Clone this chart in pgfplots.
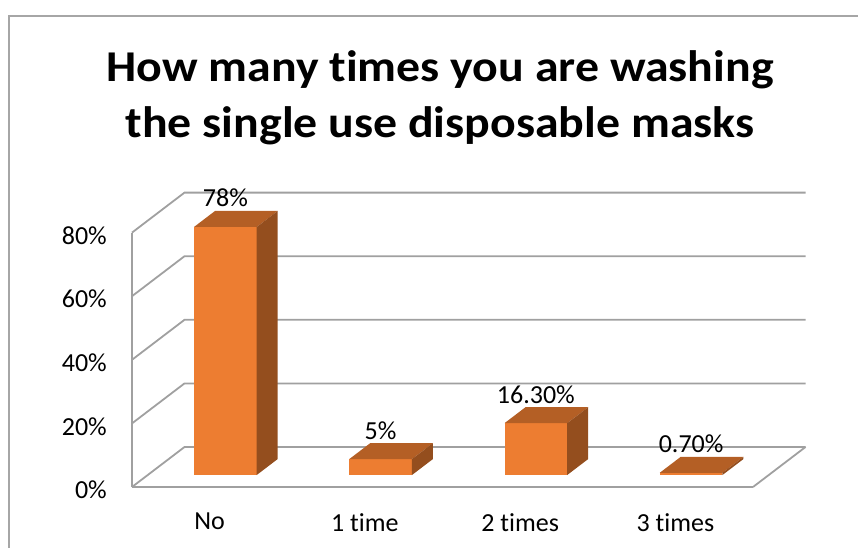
\documentclass[border=0pt]{standalone}
\usepackage{pgfplots}
\pgfplotsset{compat=1.18}
\usepackage{pgfplotstable}
\usepackage{fontspec}
\setmainfont[Ligatures={NoCommon}]{Carlito}

\definecolor{barfront}{HTML}{ED7D31}
\definecolor{bartop}{HTML}{B45F25}
\definecolor{barside}{HTML}{944E1E}
\definecolor{wallline}{HTML}{A0A0A0}
\definecolor{framec}{HTML}{A6A6A6}

% oblique depth of the floor and walls (canvas pt)
\def\depx{52.5}\def\depy{40}
% cuboid geometry: front-face offset, half width, depth
\def\bofx{15.75}\def\bofy{12}\def\bhw{31.35}\def\bdx{21}\def\bdy{16}
\def\yunit{3.18}

% a 3-D column whose height is the plotted value (origin = front-plane point)
\pgfdeclareplotmark{cuboid}{%
  \pgfmathsetmacro\bh{\barval*\yunit}%
  % front face
  \pgfpathrectangle{\pgfpoint{(\bofx-\bhw)*1pt}{(\bofy-\bh)*1pt}}{\pgfpoint{2*\bhw*1pt}{\bh*1pt}}%
  \pgfsetfillcolor{barfront}\pgfusepath{fill}%
  % top face
  \pgfpathmoveto{\pgfpoint{(\bofx-\bhw)*1pt}{\bofy*1pt}}%
  \pgfpathlineto{\pgfpoint{(\bofx+\bhw)*1pt}{\bofy*1pt}}%
  \pgfpathlineto{\pgfpoint{(\bofx+\bhw+\bdx)*1pt}{(\bofy+\bdy)*1pt}}%
  \pgfpathlineto{\pgfpoint{(\bofx-\bhw+\bdx)*1pt}{(\bofy+\bdy)*1pt}}%
  \pgfpathclose
  \pgfsetfillcolor{bartop}\pgfusepath{fill}%
  % side face
  \pgfpathmoveto{\pgfpoint{(\bofx+\bhw)*1pt}{(\bofy-\bh)*1pt}}%
  \pgfpathlineto{\pgfpoint{(\bofx+\bhw)*1pt}{\bofy*1pt}}%
  \pgfpathlineto{\pgfpoint{(\bofx+\bhw+\bdx)*1pt}{(\bofy+\bdy)*1pt}}%
  \pgfpathlineto{\pgfpoint{(\bofx+\bhw+\bdx)*1pt}{(\bofy+\bdy-\bh)*1pt}}%
  \pgfpathclose
  \pgfsetfillcolor{barside}\pgfusepath{fill}%
}

\pgfplotstableread{
pos share label
0   78    78
1   5     5
2   16.3  16.30
3   0.7   0.70
}\masks

\begin{document}
\begin{tikzpicture}
\begin{axis}[
  x=155.25pt, y=3.18pt,
  xmin=-0.5, xmax=3.5, ymin=0, ymax=80,
  axis lines*=left,
  axis line style={wallline, line width=1.8pt},
  major tick length=0pt,
  xtick={0,1,2,3},
  xticklabels={No,1 time,2 times,3 times},
  ytick={0,20,...,80},
  yticklabel={\pgfmathprintnumber{\tick}\%},
  /pgf/number format/assume math mode=true,
  tick label style={font=\fontsize{26}{31}\selectfont, inner sep=0pt, text=black},
  xticklabel style={yshift=-26pt},
  yticklabel style={xshift=-25pt, yshift=-3pt},
  clip=false,
]
\coordinate (O) at (axis cs:-0.5,0);
% side wall and back wall lines
\pgfplotsinvokeforeach{0,20,40,60,80}{
  \draw[wallline, line width=1.8pt] (axis cs:-0.5,#1) -- ++(\depx pt,\depy pt)
     -- ([shift={(\depx pt,\depy pt)}]axis cs:3.5,#1);
}
% right edge of the floor
\draw[wallline, line width=1.8pt] (axis cs:3.5,0) -- ++(\depx pt,\depy pt);

\addplot[only marks, mark=cuboid,
  visualization depends on={rawy \as \barval},
  point meta=explicit symbolic,
  nodes near coords={\pgfplotspointmeta\%},
  every node near coord/.append style={font=\fontsize{26}{31}\selectfont,
     text=black, inner sep=0pt, anchor=base, xshift=\bofx pt, yshift=32pt},
] table[x=pos, y=share, meta=label] {\masks};
\end{axis}

% chart title
\node[font=\bfseries\fontsize{44}{52}\selectfont, anchor=base, xscale=1.087]
  at ([shift={(308pt,405pt)}]O) {How many times you are washing};
\node[font=\bfseries\fontsize{44}{52}\selectfont, anchor=base, xscale=1.087]
  at ([shift={(308pt,350pt)}]O) {the single use disposable masks};

% chart area border
\draw[framec, line width=1.5pt] ([shift={(-123pt,-90pt)}]O) -- ([shift={(-123pt,471pt)}]O)
   -- ([shift={(760pt,471pt)}]O);

\pgfresetboundingbox
\path[use as bounding box] ([shift={(-132pt,-60pt)}]O) rectangle ([shift={(726pt,487pt)}]O);
\end{tikzpicture}
\end{document}
